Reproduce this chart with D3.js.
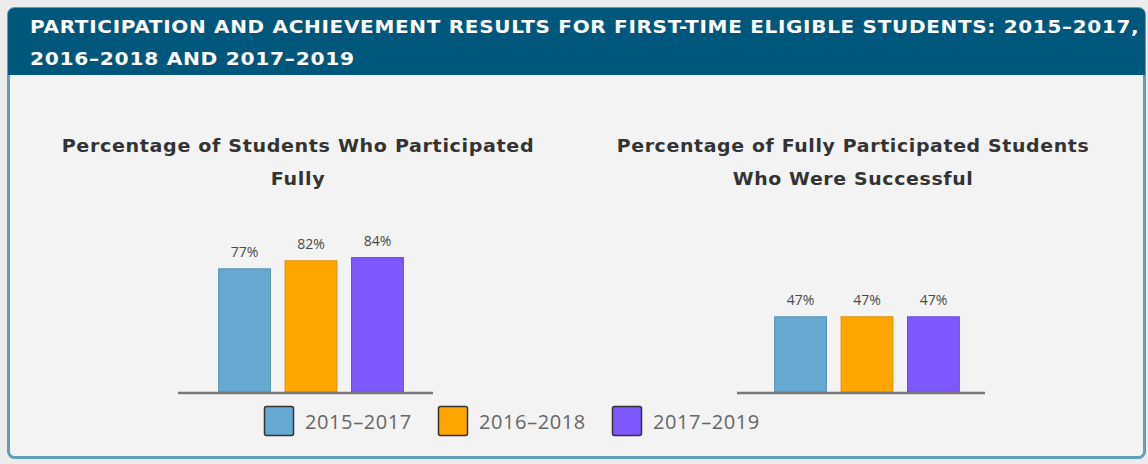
<!DOCTYPE html>
<html>
<head>
<meta charset="utf-8">
<script src="https://cdn.jsdelivr.net/npm/d3@7"></script>
<style>
  html, body { margin: 0; padding: 0; background: #ececec; }
  svg { display: block; }
</style>
</head>
<body>
<div id="chart"></div>
<script>
(function() {
  'use strict';

  // Data
  const cohorts = ['2015\u20132017', '2016\u20132018', '2017\u20132019'];
  const participated = [77, 82, 84];
  const successful = [47, 47, 47];
  const titleLines = [
    'PARTICIPATION AND ACHIEVEMENT RESULTS FOR FIRST-TIME ELIGIBLE STUDENTS: 2015\u20132017,',
    '2016\u20132018 AND 2017\u20132019'
  ];
  const panelTitles = [
    ['Percentage of Students Who Participated', 'Fully'],
    ['Percentage of Fully Participated Students', 'Who Were Successful']
  ];

  const width = 1148;
  const height = 464;
  const colors = ['#65a8d0', '#ffa500', '#7f57ff'];
  const font = '"Open Sans", "DejaVu Sans", sans-serif';
  const wideFont = '"DejaVu Sans", "Open Sans", sans-serif';

  // widen a text line horizontally so it spans the target width
  function stretch(node, x, y, target) {
    const w = node.getComputedTextLength();
    const sx = target / w;
    d3.select(node)
      .attr('transform', `translate(${x},${y}) scale(${sx.toFixed(3)},1)`);
    return sx;
  }

  const svg = d3.select('#chart')
    .append('svg')
    .attr('width', width)
    .attr('height', height);

  // Panel with border
  svg.append('rect')
    .attr('x', 8.5).attr('y', 8.5)
    .attr('width', 1136).attr('height', 449)
    .attr('rx', 6)
    .attr('fill', '#f3f3f3')
    .attr('stroke', '#5f9db8')
    .attr('stroke-width', 3);

  // Header band
  svg.append('path')
    .attr('d', 'M8,75 L8,15 Q8,8 15,8 L1138,8 Q1145,8 1145,15 L1145,75 Z')
    .attr('fill', '#00577c');

  const titleWidths = [1110, 325];
  svg.append('g')
    .selectAll('text')
    .data(titleLines)
    .join('text')
    .attr('font-family', wideFont)
    .attr('font-weight', 700)
    .attr('font-size', 17.5)
    .attr('letter-spacing', 0.6)
    .attr('fill', '#ffffff')
    .text(d => d)
    .each(function(d, i) { stretch(this, 30, 33 + i * 32, titleWidths[i]); });

  const y = d3.scaleLinear().domain([0, 100]).range([392, 232]);

  const panels = [
    { values: participated, titles: panelTitles[0], cx: 298, x0: 178, x1: 433, b0: 212, b1: 410, tw: 473 },
    { values: successful, titles: panelTitles[1], cx: 853, x0: 737, x1: 985, b0: 768, b1: 966, tw: 473 }
  ];

  panels.forEach(p => {
    const g = svg.append('g');

    let sx = 1;
    g.selectAll('text.ptitle')
      .data(p.titles)
      .join('text')
      .attr('class', 'ptitle')
      .attr('text-anchor', 'middle')
      .attr('font-family', wideFont)
      .attr('font-weight', 700)
      .attr('font-size', 17.5)
      .attr('letter-spacing', 0.6)
      .attr('fill', '#333333')
      .text(d => d)
      .each(function(d, i) {
        const yy = 152 + i * 33;
        if (i === 0) {
          sx = stretch(this, p.cx, yy, p.tw);
        } else {
          d3.select(this).attr('transform', `translate(${p.cx},${yy}) scale(${sx.toFixed(3)},1)`);
        }
      });

    const x = d3.scaleBand()
      .domain(cohorts)
      .range([p.b0, p.b1])
      .paddingInner(0.22)
      .paddingOuter(0.1);

    g.selectAll('rect')
      .data(p.values)
      .join('rect')
      .attr('x', (d, i) => x(cohorts[i]))
      .attr('y', d => y(d))
      .attr('width', x.bandwidth())
      .attr('height', d => y(0) - y(d))
      .attr('fill', (d, i) => colors[i])
      .attr('stroke', (d, i) => d3.color(colors[i]).darker(0.4))
      .attr('stroke-width', 1);

    g.selectAll('text.val')
      .data(p.values)
      .join('text')
      .attr('class', 'val')
      .attr('x', (d, i) => x(cohorts[i]) + x.bandwidth() / 2)
      .attr('y', d => y(d) - 12)
      .attr('text-anchor', 'middle')
      .attr('font-family', font)
      .attr('font-size', 14)
      .attr('fill', '#4a4a4a')
      .text(d => d + '%');

    g.append('line')
      .attr('x1', p.x0).attr('x2', p.x1)
      .attr('y1', y(0) + 1).attr('y2', y(0) + 1)
      .attr('stroke', '#777777')
      .attr('stroke-width', 2.5);
  });

  // Legend
  const legendX = d3.scalePoint().domain(cohorts).range([264, 612]);
  const legend = svg.append('g')
    .selectAll('g')
    .data(cohorts)
    .join('g')
    .attr('transform', d => `translate(${legendX(d)},406)`);

  legend.append('rect')
    .attr('x', 0.5).attr('y', 0.5)
    .attr('width', 29).attr('height', 29)
    .attr('rx', 2)
    .attr('fill', (d, i) => colors[i])
    .attr('stroke', '#333333')
    .attr('stroke-width', 1.5);

  legend.append('text')
    .attr('x', 41)
    .attr('y', 23)
    .attr('font-family', font)
    .attr('font-size', 20)
    .attr('letter-spacing', 0.6)
    .attr('fill', '#666666')
    .text(d => d);
})();
</script>
</body>
</html>
